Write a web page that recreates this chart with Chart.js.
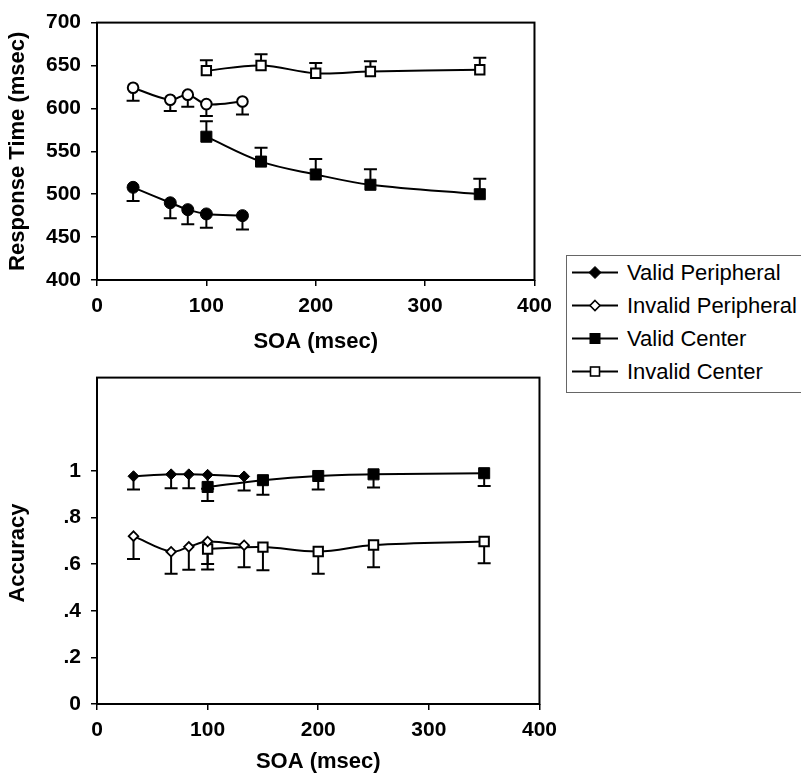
<!DOCTYPE html>
<html>
<head>
<meta charset="utf-8">
<script src="https://cdn.jsdelivr.net/npm/chart.js@4.4.1/dist/chart.umd.min.js"></script>
<style>
  body { margin: 0; background: #fff; width: 801px; height: 775px; position: relative; overflow: hidden;
         font-family: 'Liberation Sans', Arial, sans-serif; }
  #rtChart { position: absolute; left: 0; top: 0; }
  #accChart { position: absolute; left: 0; top: 355px; }
  #legend { position: absolute; left: 566px; top: 255px; width: 260px; height: 136px;
            border: 1px solid #666; background: #fff; }
  #legend .row { height: 33px; line-height: 33px; font-size: 22px; color: #000; white-space: nowrap; }
  #legend svg { vertical-align: middle; margin-left: 5px; margin-right: 9px; position: relative; top: -2px; }
</style>
</head>
<body>
<canvas id="rtChart" width="560" height="355"></canvas>
<canvas id="accChart" width="565" height="420"></canvas>
<div id="legend"></div>

<script>
// SOA values (msec)
const periphSOA = [33, 67, 83, 100, 133];
const centerSOA = [100, 150, 200, 250, 350];

// Response time (msec) and error bars
const rtValidPer = [508, 490, 482, 477, 475];
const rtValidPerErr = [16, 18, 17, 16, 16];
const rtInvalidPer = [624, 610, 616, 605, 608];
const rtInvalidPerErr = [15, 13, 14, 14, 15];
const rtValidCen = [567, 538, 523, 511, 500];
const rtValidCenErr = [18, 16, 18, 18, 18];
const rtInvalidCen = [644, 650, 641, 643, 645];
const rtInvalidCenErr = [12, 13, 12, 12, 14];

// Accuracy and error bars
const accValidPer = [0.977, 0.985, 0.985, 0.983, 0.976];
const accValidPerErr = [0.057, 0.06, 0.06, 0.06, 0.06];
const accInvalidPer = [0.72, 0.653, 0.674, 0.697, 0.681];
const accInvalidPerErr = [0.098, 0.094, 0.098, 0.12, 0.094];
const accValidCen = [0.931, 0.96, 0.978, 0.985, 0.99];
const accValidCenErr = [0.06, 0.062, 0.058, 0.056, 0.055];
const accInvalidCen = [0.665, 0.673, 0.654, 0.682, 0.697];
const accInvalidCenErr = [0.065, 0.099, 0.095, 0.095, 0.093];

// Ticks
const soaTicks = [0, 100, 200, 300, 400];
const rtTicks = [400, 450, 500, 550, 600, 650, 700];
const accTicks = [0, 0.2, 0.4, 0.6, 0.8, 1];
const accTickLabels = ['0', '.2', '.4', '.6', '.8', '1'];

const legendLabels = ['Valid Peripheral', 'Invalid Peripheral', 'Valid Center', 'Invalid Center'];

const FONT = "'Liberation Sans', Arial, sans-serif";

function pts(xs, ys) {
    return xs.map((x, i) => ({ x: x, y: ys[i] }));
}

// draws the one-sided error bars under the markers
const errorBars = {
    id: 'errorBars',
    beforeDatasetsDraw(chart) {
        const ctx = chart.ctx;
        const yScale = chart.scales.y;
        ctx.save();
        ctx.strokeStyle = '#000';
        ctx.lineWidth = 2;
        chart.data.datasets.forEach((ds, i) => {
            const meta = chart.getDatasetMeta(i);
            meta.data.forEach((pt, j) => {
                const yEnd = yScale.getPixelForValue(ds.data[j].y + ds.errDir * ds.errors[j]);
                ctx.beginPath();
                ctx.moveTo(pt.x, pt.y);
                ctx.lineTo(pt.x, yEnd);
                ctx.moveTo(pt.x - 6.5, yEnd);
                ctx.lineTo(pt.x + 6.5, yEnd);
                ctx.stroke();
            });
        });
        ctx.restore();
    }
};

// box around the plot area
const frame = {
    id: 'frame',
    beforeDatasetsDraw(chart) {
        const a = chart.chartArea;
        const ctx = chart.ctx;
        ctx.save();
        ctx.strokeStyle = '#000';
        ctx.lineWidth = 2;
        ctx.strokeRect(a.left, a.top, a.right - a.left, a.bottom - a.top);
        ctx.restore();
    }
};

function series(label, xs, ys, errs, dir, style, filled, radius, border) {
    return {
        label: label,
        data: pts(xs, ys),
        errors: errs,
        errDir: dir,
        borderColor: '#000',
        borderWidth: 2,
        tension: 0.35,
        pointStyle: style,
        pointRadius: radius,
        pointBackgroundColor: filled ? '#000' : '#fff',
        pointBorderColor: '#000',
        pointBorderWidth: border
    };
}

function makeOptions(cfg) {
    return {
        responsive: false,
        devicePixelRatio: 1,
        animation: false,
        layout: { padding: { top: cfg.padTop, right: cfg.padRight, left: 0, bottom: 0 } },
        plugins: { legend: { display: false }, tooltip: { enabled: false } },
        scales: {
            x: {
                type: 'linear',
                min: 0,
                max: 400,
                afterBuildTicks: (s) => { s.ticks = soaTicks.map(v => ({ value: v })); },
                afterFit: (s) => { s.height = cfg.xHeight; },
                ticks: { color: '#000', padding: 8, maxRotation: 0, font: { family: FONT, size: 21, weight: 'bold' } },
                grid: { display: true, drawOnChartArea: false, drawTicks: true, tickLength: 6, color: '#000', lineWidth: 1.5 },
                border: { display: false },
                title: { display: true, text: 'SOA (msec)', color: '#000', padding: { top: 0, bottom: 0 },
                         font: { family: FONT, size: 22, weight: 'bold' } }
            },
            y: {
                min: cfg.yMin,
                max: cfg.yMax,
                afterBuildTicks: (s) => { s.ticks = cfg.yTicks.map(v => ({ value: v })); },
                afterFit: (s) => { s.width = 97; },
                ticks: { color: '#000', padding: 10, callback: cfg.yLabel,
                         font: { family: FONT, size: 21, weight: 'bold' } },
                grid: { display: true, drawOnChartArea: false, drawTicks: true, tickLength: 6, color: '#000', lineWidth: 1.5 },
                border: { display: false },
                title: { display: true, text: cfg.yTitle, color: '#000', padding: { top: 5, bottom: 0 },
                         font: { family: FONT, size: 22, weight: 'bold' } }
            }
        }
    };
}

// Response time chart
new Chart(document.getElementById('rtChart'), {
    type: 'line',
    data: {
        datasets: [
            series(legendLabels[0], periphSOA, rtValidPer, rtValidPerErr, -1, 'circle', true, 6, 1),
            series(legendLabels[1], periphSOA, rtInvalidPer, rtInvalidPerErr, -1, 'circle', false, 5.3, 2),
            series(legendLabels[2], centerSOA, rtValidCen, rtValidCenErr, 1, 'rect', true, 7.8, 1),
            series(legendLabels[3], centerSOA, rtInvalidCen, rtInvalidCenErr, 1, 'rect', false, 6.6, 2)
        ]
    },
    options: makeOptions({
        padTop: 17, padRight: 24, xHeight: 75,
        yMin: 400, yMax: 700, yTicks: rtTicks, yTitle: 'Response Time (msec)',
        yLabel: (v) => String(v)
    }),
    plugins: [frame, errorBars]
});

// Accuracy chart (title sits a bit below the axis middle in the original)
new Chart(document.getElementById('accChart'), {
    type: 'line',
    data: {
        datasets: [
            series(legendLabels[0], periphSOA, accValidPer, accValidPerErr, -1, 'rectRot', true, 5.5, 1),
            series(legendLabels[1], periphSOA, accInvalidPer, accInvalidPerErr, -1, 'rectRot', false, 4.8, 1.8),
            series(legendLabels[2], centerSOA, accValidCen, accValidCenErr, -1, 'rect', true, 7.8, 1),
            series(legendLabels[3], centerSOA, accInvalidCen, accInvalidCenErr, -1, 'rect', false, 6.6, 2)
        ]
    },
    options: makeOptions({
        padTop: 19, padRight: 24, xHeight: 71,
        yMin: 0, yMax: 1.4, yTicks: accTicks, yTitle: 'Accuracy    ',
        yLabel: (v, i) => accTickLabels[i]
    }),
    plugins: [frame, errorBars]
});

// Legend (line through marker, like the original)
const legendMarkers = [
    '<polygon points="23,4.5 29,10.5 23,16.5 17,10.5" fill="#000" stroke="#000" stroke-width="1"/>',
    '<polygon points="23,5.5 28,10.5 23,15.5 18,10.5" fill="#fff" stroke="#000" stroke-width="1.6"/>',
    '<rect x="18" y="5.5" width="10" height="10" fill="#000" stroke="#000" stroke-width="1"/>',
    '<rect x="18.5" y="6" width="9" height="9" fill="#fff" stroke="#000" stroke-width="1.6"/>'
];
const legend = document.getElementById('legend');
legendLabels.forEach((label, i) => {
    const row = document.createElement('div');
    row.className = 'row';
    row.innerHTML = '<svg width="46" height="21"><line x1="0" y1="10.5" x2="46" y2="10.5" stroke="#000" stroke-width="2"/>' +
        legendMarkers[i] + '</svg><span>' + label + '</span>';
    legend.appendChild(row);
});
</script>
</body>
</html>
